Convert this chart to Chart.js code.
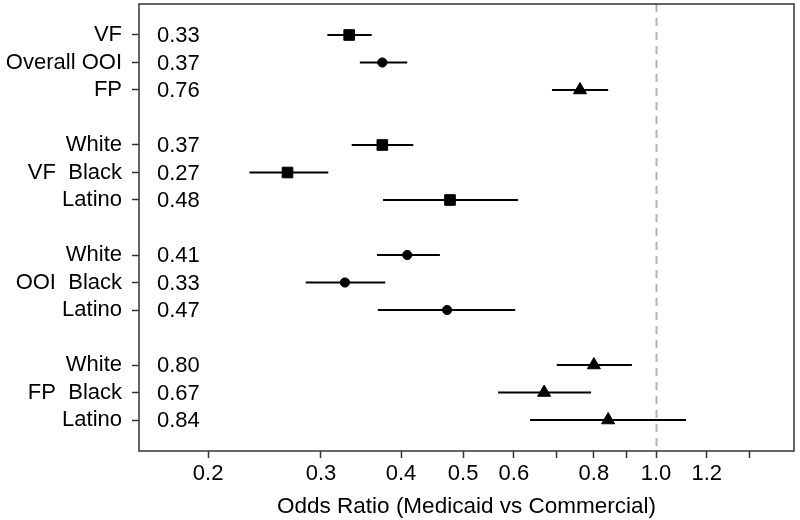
<!DOCTYPE html>
<html><head><meta charset="utf-8">
<script src="https://cdn.jsdelivr.net/npm/chart.js@4/dist/chart.umd.min.js"></script>
<style>html,body{margin:0;padding:0;background:#fff}#wrap{width:800px;height:520px}</style>
</head><body><div id="wrap"><canvas id="c" width="800" height="520"></canvas></div>
<script>
const rowLabels = ["VF","Overall OOI","FP","White","VF  Black","Latino","White","OOI  Black","Latino","White","FP  Black","Latino"];
const rowPos = [1,2,3,5,6,7,9,10,11,13,14,15];
const oddsRatio = [0.332,0.374,0.761,0.374,0.266,0.477,0.409,0.327,0.472,0.80,0.669,0.842];
const orText = ["0.33","0.37","0.76","0.37","0.27","0.48","0.41","0.33","0.47","0.80","0.67","0.84"];
const ciLow = [0.307,0.345,0.688,0.335,0.232,0.375,0.367,0.284,0.368,0.70,0.567,0.636];
const ciHigh = [0.360,0.409,0.842,0.418,0.308,0.609,0.460,0.378,0.603,0.917,0.792,1.114];
const outcome = ["VF","OOI","FP","VF","VF","VF","OOI","OOI","OOI","FP","FP","FP"];
const xTicks = [0.2,0.3,0.4,0.5,0.6,0.7,0.8,0.9,1.0,1.2,1.4];
const xTickLabels = ["0.2","0.3","0.4","0.5","0.6","","0.8","","1.0","1.2",""];
const refLine = 1.0;

const FONT = "'Liberation Sans', Arial, sans-serif";
const FS = 22;
const styles = {VF:{style:'rect',r:7.5}, OOI:{style:'circle',r:4.6}, FP:{style:'triangle',r:7.5}};

function ds(key){
  const pts=[];
  for(let i=0;i<rowPos.length;i++) if(outcome[i]===key) pts.push({x:oddsRatio[i],y:rowPos[i]});
  return {label:key,data:pts,pointStyle:styles[key].style,pointRadius:styles[key].r,
    backgroundColor:'#000',borderColor:'#000',borderWidth:1,showLine:false};
}

const bars = {
  id:'bars',
  beforeDatasetsDraw(chart){
    const {ctx,scales:{x,y},chartArea:a}=chart;
    ctx.save();
    ctx.strokeStyle='#b4b4b4';ctx.lineWidth=2;ctx.setLineDash([8,6]);
    const rx=Math.round(x.getPixelForValue(refLine))+0.5;
    ctx.beginPath();ctx.moveTo(rx,a.top);ctx.lineTo(rx,a.bottom);ctx.stroke();
    ctx.setLineDash([]);
    ctx.strokeStyle='#000';ctx.lineWidth=2;
    for(let i=0;i<rowPos.length;i++){
      const py=y.getPixelForValue(rowPos[i]);
      ctx.beginPath();ctx.moveTo(x.getPixelForValue(ciLow[i]),py);ctx.lineTo(x.getPixelForValue(ciHigh[i]),py);ctx.stroke();
    }
    ctx.restore();
  },
  afterDraw(chart){
    const {ctx,scales:{y},chartArea:a}=chart;
    ctx.save();
    ctx.fillStyle='#000';ctx.font=FS+'px '+FONT;ctx.textAlign='left';ctx.textBaseline='middle';
    for(let i=0;i<rowPos.length;i++) ctx.fillText(orText[i],a.left+18,y.getPixelForValue(rowPos[i])+1);
    ctx.strokeStyle='#333';ctx.lineWidth=1.5;
    ctx.strokeRect(a.left,a.top,a.right-a.left,a.bottom-a.top);
    ctx.restore();
  }
};

new Chart(document.getElementById('c'),{
  type:'scatter',
  data:{datasets:[ds('VF'),ds('OOI'),ds('FP')]},
  options:{
    responsive:false,animation:false,
    layout:{autoPadding:false,padding:{left:0,right:6,top:4,bottom:0}},
    plugins:{legend:{display:false},tooltip:{enabled:false}},
    scales:{
      x:{type:'logarithmic',min:0.156,max:1.642,
        afterBuildTicks(s){s.ticks=xTicks.map(v=>({value:v}));},
        afterFit(s){s.height=69;s.paddingLeft=0;s.paddingRight=0;},
        ticks:{autoSkip:false,maxRotation:0,padding:3,color:'#000',font:{family:FONT,size:FS},
          callback(v,i){return xTickLabels[i];}},
        grid:{display:true,drawOnChartArea:false,drawTicks:true,tickLength:7,tickColor:'#333',tickWidth:1.5},
        border:{display:false},
        title:{display:true,text:'Odds Ratio (Medicaid vs Commercial)',color:'#000',font:{family:FONT,size:22.5},padding:{top:2,bottom:0}}
      },
      y:{type:'linear',reverse:true,min:-0.127,max:16.127,
        afterBuildTicks(s){s.ticks=rowPos.map(v=>({value:v}));},
        afterFit(s){s.width=139;s.paddingTop=0;s.paddingBottom=0;},
        ticks:{autoSkip:false,padding:10,color:'#000',font:{family:FONT,size:FS},
          callback(v,i){return rowLabels[i];}},
        grid:{display:true,drawOnChartArea:false,drawTicks:true,tickLength:7,tickColor:'#333',tickWidth:1.5},
        border:{display:false}
      }
    }
  },
  plugins:[bars]
});
</script></body></html>
